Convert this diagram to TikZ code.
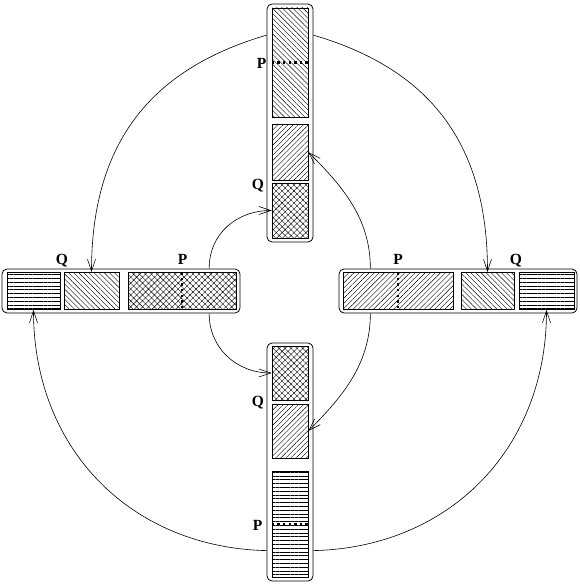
\documentclass[tikz,border=0pt]{standalone}
\usepackage{fontspec}
\setmainfont{Liberation Serif}
\usepackage{tikz}
\usetikzlibrary{arrows.meta,patterns.meta,calc}
\tikzset{
  rbframe/.style={
    rectangle, rounded corners=5pt, draw=black, fill=white, line width=0.8pt,
    inner sep=0pt
  },
  rbseg/.style={rectangle, draw=black, line width=0.6pt, inner sep=0pt},
  rbdown/.style={rbseg,pattern={Lines[angle=-45,distance=3.6pt,line width=0.4pt]}},
  rbup/.style={rbseg,pattern={Lines[angle=45,distance=3.6pt,line width=0.4pt]}},
  rbflat/.style={rbseg,pattern={Lines[angle=0,distance=3.8pt,line width=0.4pt]}},
  rbcross/.style={rbseg,pattern={Hatch[angle=45,distance=4.2pt,line width=0.4pt]}},
  rbedge/.style={-{Straight Barb[length=12pt,width=8pt,line width=0.6pt]},line width=0.6pt},
  rbmark/.style={line width=2.4pt,dash pattern=on 2.4pt off 3.2pt},
  rbtag/.style={font=\fontsize{15.5}{16}\selectfont\bfseries,inner sep=0pt,anchor=base}
}
\begin{document}
\begin{tikzpicture}[x=1pt,y=-1pt]
  \useasboundingbox (0,0) rectangle (580,586);
  % frames
  \node[rbframe,minimum width=46pt,minimum height=238pt] (Tf) at (290,123) {};
  \node[rbframe,minimum width=46pt,minimum height=238pt] (Bf) at (290,462) {};
  \node[rbframe,minimum width=238pt,minimum height=44pt] (Lf) at (121,291) {};
  \node[rbframe,minimum width=238pt,minimum height=44pt] (Rf) at (458,291) {};
  % top
  \node[rbdown,minimum width=36pt,minimum height=109pt] (T1) at (290,62.5) {};
  \node[rbup,minimum width=36pt,minimum height=56pt] (T2) at (290,152) {};
  \node[rbcross,minimum width=36pt,minimum height=55pt] (T3) at (290,210.5) {};
  % bottom
  \node[rbcross,minimum width=36pt,minimum height=54pt] (B1) at (290,373) {};
  \node[rbup,minimum width=36pt,minimum height=54pt] (B2) at (290,431) {};
  \node[rbflat,minimum width=36pt,minimum height=106pt] (B3) at (290,524) {};
  % left
  \node[rbflat,minimum width=53pt,minimum height=37pt] (L1) at (33.5,291) {};
  \node[rbdown,minimum width=55pt,minimum height=37pt] (L2) at (91.5,291) {};
  \node[rbcross,minimum width=108pt,minimum height=37pt] (L3) at (182,291) {};
  % right
  \node[rbup,minimum width=110pt,minimum height=37pt] (R1) at (398,291) {};
  \node[rbdown,minimum width=53pt,minimum height=37pt] (R2) at (487.5,291) {};
  \node[rbflat,minimum width=55pt,minimum height=37pt] (R3) at (546.5,291) {};
  % P marks
  \draw[rbmark] (T1.west) -- (T1.east);
  \draw[rbmark] (B3.west) -- (B3.east);
  \draw[rbmark] (L3.north) -- (L3.south);
  \draw[rbmark] (R1.north) -- (R1.south);
  \node[rbtag] (pT) at (261.5,68) {P};
  \node[rbtag] (qT) at (258,189.5) {Q};
  \node[rbtag] (qB) at (258,406.5) {Q};
  \node[rbtag] (pB) at (257.5,530) {P};
  \node[rbtag] (qL) at (62,264.5) {Q};
  \node[rbtag] (pL) at (182.5,264) {P};
  \node[rbtag] (pR) at (398,264) {P};
  \node[rbtag] (qR) at (516,264.5) {Q};
  % start points
  \coordinate (t1a) at ($(T1.north)!.25!(T1.south)$);
  \coordinate (b3a) at ($(B3.north)!.75!(B3.south)$);
  \coordinate (l3a) at ($(L3.west)!.75!(L3.east)$);
  \coordinate (r1a) at ($(R1.west)!.25!(R1.east)$);
  % outer arcs
  \draw[rbedge] (t1a -| Tf.west) .. controls +(-120,35) and +(0,-125) .. (L2.north);
  \draw[rbedge] (t1a -| Tf.east) .. controls +(120,35) and +(0,-125) .. (R2.north);
  \draw[rbedge] (b3a -| Bf.west) .. controls +(-135,-3) and +(0,140) .. (L1.south);
  \draw[rbedge] (b3a -| Bf.east) .. controls +(135,-3) and +(0,140) .. (R3.south);
  % inner arcs
  \draw[rbedge] (l3a |- Lf.north) .. controls +(0,-35) and +(-35,0) .. (T3.west);
  \draw[rbedge] (l3a |- Lf.south) .. controls +(0,35) and +(-35,0) .. (B1.west);
  \draw[rbedge] (r1a |- Rf.north) .. controls +(0,-50) and +(35,35) .. (T2.east);
  \draw[rbedge] (r1a |- Rf.south) .. controls +(0,50) and +(35,-35) .. (B2.east);
\end{tikzpicture}
\end{document}
